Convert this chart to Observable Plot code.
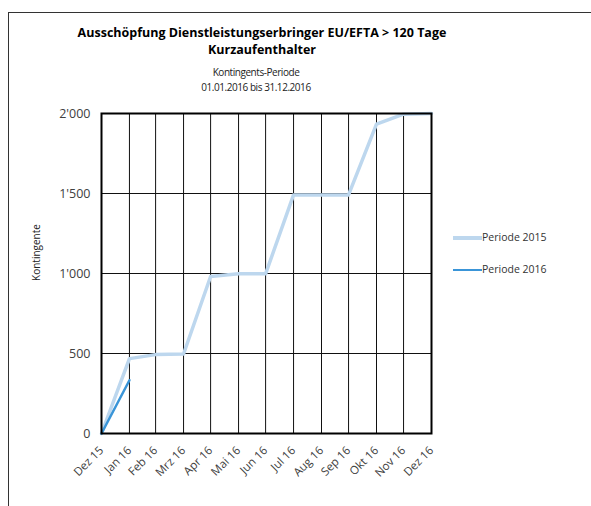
<!DOCTYPE html>
<html>
<head>
<meta charset="utf-8">
<script src="https://cdn.jsdelivr.net/npm/d3@7"></script>
<script src="https://cdn.jsdelivr.net/npm/@observablehq/plot@0.6"></script>
<style>
  html, body { margin: 0; padding: 0; background: #fff; }
  body { width: 591px; height: 506px; position: relative; overflow: hidden; font-family: "Open Sans", "Noto Sans", sans-serif; }
  #border { position: absolute; left: 8px; top: 12px; width: 600px; height: 520px; border-left: 1.5px solid #333; border-top: 1.5px solid #333; }
  .title { position: absolute; left: 62px; width: 400px; text-align: center; font-weight: bold; font-size: 12.5px; color: #000; line-height: 17px; }
  .sub { position: absolute; left: 156px; width: 200px; text-align: center; font-size: 10px; letter-spacing: -0.45px; color: #222; line-height: 15px; }
  #chart { position: absolute; left: 0; top: 100px; }
  #legend { position: absolute; left: 453px; top: 230px; font-size: 10.5px; color: #333; }
  .li { position: absolute; white-space: nowrap; }
  .sw { position: absolute; left: 0; width: 29px; }
  .lt { position: absolute; left: 29px; top: -8px; }
</style>
</head>
<body>
<div id="border"></div>
<div class="title" style="top:24px">Ausschöpfung Dienstleistungserbringer EU/EFTA &gt; 120 Tage<br>Kurzaufenthalter</div>
<div class="sub" style="top:65px">Kontingents-Periode<br>01.01.2016 bis 31.12.2016</div>
<div id="chart"></div>
<div id="legend"></div>
<script>
const dates = ["2015-12-31","2016-01-31","2016-02-29","2016-03-31","2016-04-30","2016-05-31","2016-06-30","2016-07-31","2016-08-31","2016-09-30","2016-10-31","2016-11-30","2016-12-31"];
const monthLabels = ["Dez 15","Jan 16","Feb 16","Mrz 16","Apr 16","Mai 16","Jun 16","Jul 16","Aug 16","Sep 16","Okt 16","Nov 16","Dez 16"];
const periode2015 = [0, 468, 493, 497, 981, 998, 998, 1491, 1490, 1491, 1933, 1996, 2000];
const periode2016 = [0, 333];
const yTicks = [0, 500, 1000, 1500, 2000];
const seriesNames = ["Periode 2015", "Periode 2016"];
const seriesColors = ["#bdd7ee", "#3a95d8"];
const seriesWidths = [3.5, 2.5];

const parse = d3.utcParse("%Y-%m-%d");
const dateObjs = dates.map(parse);
const data2015 = periode2015.map((v, i) => ({date: dateObjs[i], value: v}));
const data2016 = periode2016.map((v, i) => ({date: dateObjs[i], value: v}));
const labelFor = new Map(dateObjs.map((d, i) => [+d, monthLabels[i]]));
const fmt = v => d3.format(",")(v).replace(/,/g, "'");

const plot = Plot.plot({
  width: 591,
  height: 406,
  marginLeft: 101,
  marginRight: 160,
  marginTop: 13,
  marginBottom: 73,
  style: { fontFamily: "'Open Sans', 'Noto Sans', sans-serif", fontSize: "11px", color: "#404040", background: "transparent", overflow: "visible" },
  x: { type: "utc", domain: [dateObjs[0], dateObjs[dateObjs.length - 1]] },
  y: { domain: [0, 2000] },
  marks: [
    Plot.ruleX(dateObjs, { stroke: "#111", strokeWidth: 1 }),
    Plot.ruleY(yTicks, { stroke: "#111", strokeWidth: 1 }),
    Plot.axisY({ ticks: yTicks, tickFormat: fmt, tickSize: 0, tickPadding: 11, label: null, fontSize: 12.5 }),
    Plot.text(["Kontingente"], { frameAnchor: "left", textAnchor: "middle", dx: -65, dy: -21, rotate: -90, fontSize: 10, fill: "#222" }),
    Plot.axisX({ ticks: dateObjs, tickFormat: d => labelFor.get(+d), tickSize: 0, tickPadding: 15, tickRotate: -45, label: null, fontSize: 11.5, dx: 0 }),
    Plot.line(data2015, { x: "date", y: "value", stroke: seriesColors[0], strokeWidth: seriesWidths[0] }),
    Plot.line(data2016, { x: "date", y: "value", stroke: seriesColors[1], strokeWidth: seriesWidths[1] }),
    Plot.frame({ stroke: "#000", strokeWidth: 2 })
  ]
});
document.getElementById("chart").appendChild(plot);

const legend = document.getElementById("legend");
seriesNames.forEach((name, i) => {
  const item = document.createElement("div");
  item.className = "li";
  item.style.top = (i * 32 + 8) + "px";
  const sw = document.createElement("div");
  sw.className = "sw";
  sw.style.height = seriesWidths[i] + "px";
  sw.style.top = (-seriesWidths[i] / 2) + "px";
  sw.style.background = seriesColors[i];
  const t = document.createElement("div");
  t.className = "lt";
  t.textContent = name;
  item.appendChild(sw);
  item.appendChild(t);
  legend.appendChild(item);
});
</script>
</body>
</html>
